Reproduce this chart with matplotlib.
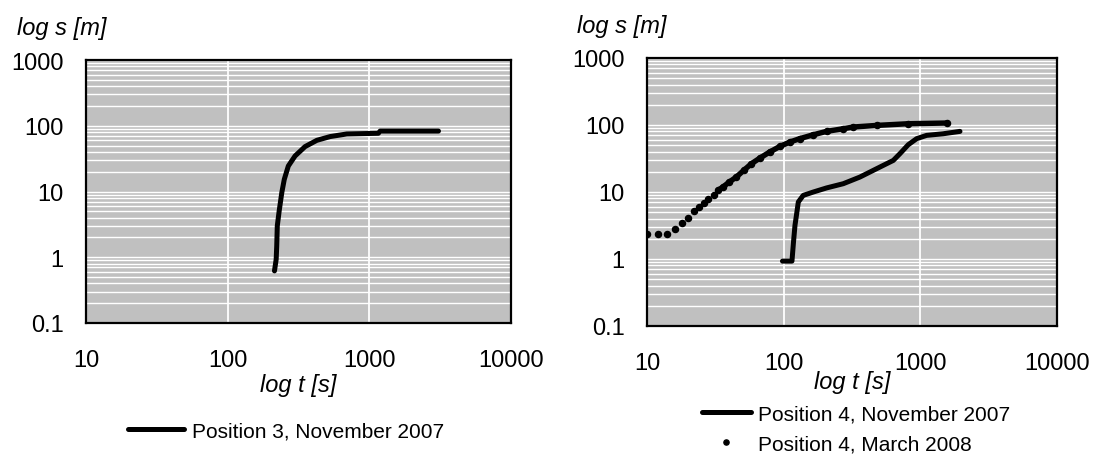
import matplotlib
matplotlib.use("Agg")
import matplotlib.pyplot as plt
from matplotlib.ticker import LogLocator, NullFormatter

plt.rcParams['font.family'] = ['Liberation Sans', 'DejaVu Sans']

# -----------------------------
# Drawdown data, position 3 (November 2007)
# -----------------------------
t_p3 = [214, 220, 222, 224, 231, 241, 251, 268, 299, 352, 426, 528, 693, 1158, 1192, 3077]
s_p3 = [0.62, 0.93, 1.48, 2.99, 5.06, 9.6, 15.3, 24.4, 34.7, 48.2, 60, 68.4, 75, 76.8, 83, 83]

# -----------------------------
# Drawdown data, position 4 (November 2007 and March 2008)
# -----------------------------
t_nov = [98, 115, 118, 121, 125, 128, 139, 165, 206, 273, 361, 452, 566, 634, 709, 816, 940, 1112, 1469, 1950]
s_nov = [0.93, 0.93, 1.79, 3.18, 5.03, 7.09, 8.9, 10, 11.5, 13.3, 16.7, 21, 26.4, 29.6, 37.3, 50.8, 62.5, 70, 74, 80.3]

t_mar = [10, 12, 14, 16, 18, 20, 22, 24, 26, 28, 31, 33, 36, 40, 45, 51, 58, 67, 79, 94, 111, 131,
         165, 206, 273, 323, 479, 816, 1557]
s_mar = [2.33, 2.33, 2.33, 2.77, 3.48, 4.13, 5.13, 5.89, 6.85, 7.94, 9.12, 10.6, 11.9, 14.1, 16.7,
         21.0, 26.4, 32.1, 39.5, 48, 55.7, 62.5, 71.6, 80.3, 88, 93.3, 98.6, 104.5, 107]
dense_from = 11   # beyond this the dots overlap into a solid band

x_ticks = [10, 100, 1000, 10000]
x_labels = ['10', '100', '1000', '10000']
y_ticks = [0.1, 1, 10, 100, 1000]
y_labels = ['0.1', '1', '10', '100', '1000']

FS = 15       # legend
TFS = 17      # tick labels
LFS = 17      # axis titles
BG = '#c0c0c0'

fig = plt.figure(figsize=(10.96, 4.56), dpi=100)
ax1 = fig.add_axes([86/1096, 1 - 324/456, 425/1096, 263/456])
ax2 = fig.add_axes([647/1096, 1 - 327/456, 410/1096, 268/456])


def style_axes(ax):
    ax.set_xscale('log')
    ax.set_yscale('log')
    ax.set_xlim(10, 10000)
    ax.set_ylim(0.1, 1000)
    ax.set_facecolor(BG)
    ax.set_xticks(x_ticks)
    ax.set_xticklabels(x_labels)
    ax.set_yticks(y_ticks)
    ax.set_yticklabels(y_labels)
    ax.yaxis.set_minor_locator(LogLocator(base=10, subs=range(2, 10), numticks=20))
    ax.yaxis.set_minor_formatter(NullFormatter())
    ax.xaxis.set_minor_formatter(NullFormatter())
    ax.tick_params(axis='both', which='both', length=0, labelsize=TFS)
    ax.tick_params(axis='y', pad=16)
    ax.tick_params(axis='x', pad=19)
    ax.xaxis.set_tick_params(which='minor', bottom=False)
    ax.grid(True, axis='x', which='major', color='white', lw=1.3)
    ax.grid(True, axis='y', which='both', color='white', lw=1.0)
    ax.set_axisbelow(True)
    for sp in ax.spines.values():
        sp.set_linewidth(1.6)
        sp.set_color('black')


style_axes(ax1)
style_axes(ax2)

# left panel
ax1.plot(t_p3, s_p3, color='black', lw=3.6, solid_capstyle='round',
         label='Position 3, November 2007')

# right panel
ax2.plot(t_nov, s_nov, color='black', lw=3.6, solid_capstyle='round',
         label='Position 4, November 2007')
ax2.plot(t_mar, s_mar, ls='none', marker='o', ms=4.4, color='black',
         label='Position 4, March 2008')
ax2.plot(t_mar[dense_from:], s_mar[dense_from:], color='black', lw=3.9,
         solid_capstyle='round')

# axis titles
fig.text(62/1096, 1 - 28/456, 'log s [m]', fontsize=LFS, style='italic', ha='center', va='center')
fig.text(622/1096, 1 - 27/456, 'log s [m]', fontsize=LFS, style='italic', ha='center', va='center')
fig.text(298/1096, 1 - 386/456, 'log t [s]', fontsize=LFS, style='italic', ha='center', va='center')
fig.text(852/1096, 1 - 382/456, 'log t [s]', fontsize=LFS, style='italic', ha='center', va='center')

# legends below each panel
ax1.legend(loc='center left', bbox_to_anchor=(128/1096, 1 - 432/456),
           bbox_transform=fig.transFigure, frameon=False, fontsize=FS,
           handlelength=2.7, handletextpad=0.35, borderpad=0, borderaxespad=0)
ax2.legend(loc='center left', bbox_to_anchor=(702/1096, 1 - 430/456),
           bbox_transform=fig.transFigure, frameon=False, fontsize=FS,
           handlelength=2.35, handletextpad=0.35, borderpad=0, borderaxespad=0,
           labelspacing=0.55, markerscale=0.85)

fig.savefig('out.png', dpi=100)
